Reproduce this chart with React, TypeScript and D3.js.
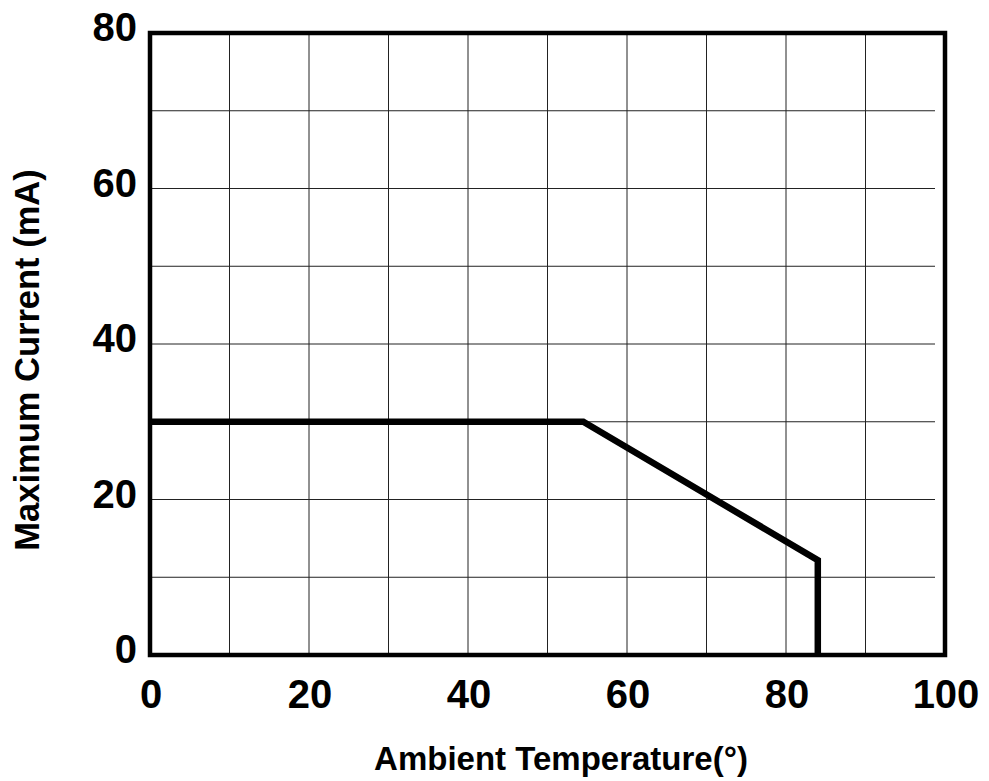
import * as d3 from 'd3';
import { useMemo } from 'react';

// Derating curve
const temperatures = [0, 54.5, 84, 84];
const currents = [30, 30, 12.2, 0];

const xTicks = [0, 20, 40, 60, 80, 100];
const yTicks = [0, 20, 40, 60, 80];
const xGrid = d3.range(10, 100, 10);
const yGrid = d3.range(10, 80, 10);

const WIDTH = 989;
const HEIGHT = 781;
const PLOT = { left: 150, right: 945, top: 33, bottom: 655 };
const FONT = '"Liberation Sans", Arial, sans-serif';

export default function App() {
  const xScale = useMemo(
    () => d3.scaleLinear().domain([0, 100]).range([PLOT.left, PLOT.right]),
    []
  );
  const yScale = useMemo(
    () => d3.scaleLinear().domain([0, 80]).range([PLOT.bottom, PLOT.top]),
    []
  );

  const linePath = d3
    .line<number>()
    .x((d) => xScale(d))
    .y((_, i) => yScale(currents[i]))(temperatures);

  return (
    <svg
      width={WIDTH}
      height={HEIGHT}
      style={{ position: 'absolute', left: 0, top: 0, background: '#fff' }}
    >
      {/* grid */}
      {xGrid.map((t) => (
        <line
          key={'vx' + t}
          x1={xScale(t)}
          x2={xScale(t)}
          y1={PLOT.top}
          y2={PLOT.bottom}
          stroke="#222"
          strokeWidth={1}
        />
      ))}
      {yGrid.map((t) => (
        <line
          key={'hy' + t}
          x1={PLOT.left}
          x2={935}
          y1={yScale(t)}
          y2={yScale(t)}
          stroke="#222"
          strokeWidth={1}
        />
      ))}

      {/* frame */}
      <rect
        x={PLOT.left}
        y={PLOT.top}
        width={PLOT.right - PLOT.left}
        height={PLOT.bottom - PLOT.top}
        fill="none"
        stroke="#000"
        strokeWidth={4.5}
      />

      {/* curve */}
      <path
        d={linePath ?? ''}
        fill="none"
        stroke="#000"
        strokeWidth={6.5}
        strokeLinejoin="miter"
      />

      {/* y tick labels */}
      {yTicks.map((t) => (
        <text
          key={'yt' + t}
          x={137}
          y={yScale(t) - 6}
          textAnchor="end"
          dominantBaseline="central"
          fontFamily={FONT}
          fontWeight="bold"
          fontSize={40}
        >
          {t}
        </text>
      ))}

      {/* x tick labels */}
      {xTicks.map((t) => (
        <text
          key={'xt' + t}
          x={xScale(t) + 1}
          y={694}
          textAnchor="middle"
          dominantBaseline="central"
          fontFamily={FONT}
          fontWeight="bold"
          fontSize={40}
        >
          {t}
        </text>
      ))}

      {/* axis titles */}
      <text
        x={561}
        y={770}
        textAnchor="middle"
        fontFamily={FONT}
        fontWeight="bold"
        fontSize={33}
      >
        Ambient Temperature(°)
      </text>
      <text
        transform="translate(39,360) rotate(-90)"
        textAnchor="middle"
        fontFamily={FONT}
        fontWeight="bold"
        fontSize={34.5}
      >
        Maximum Current (mA)
      </text>
    </svg>
  );
}
